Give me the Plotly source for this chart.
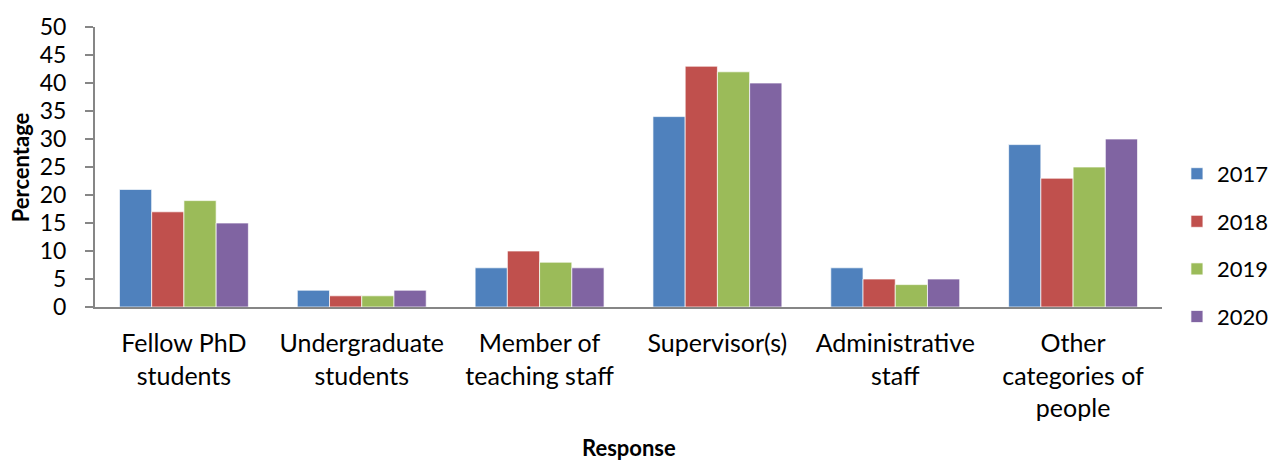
import plotly.graph_objects as go

categories = ["Fellow PhD<br>students", "Undergraduate<br>students", "Member of<br>teaching staff",
              "Supervisor(s)", "Administrative<br>staff", "Other<br>categories of<br>people"]
years = ["2017", "2018", "2019", "2020"]
v2017 = [21, 3, 7, 34, 7, 29]
v2018 = [17, 2, 10, 43, 5, 23]
v2019 = [19, 2, 8, 42, 4, 25]
v2020 = [15, 3, 7, 40, 5, 30]
series = [v2017, v2018, v2019, v2020]
colors = ["#4F81BD", "#C0504D", "#9BBB59", "#8064A2"]
y_ticks = [0, 5, 10, 15, 20, 25, 30, 35, 40, 45, 50]

FONT = "Lato"

fig = go.Figure()
for name, vals, col in zip(years, series, colors):
    fig.add_trace(go.Bar(
        x=categories, y=vals, name=name, legendgroup=name,
        marker=dict(color=col, line=dict(color="rgba(255,255,255,0.7)", width=1)),
    ))

fig.update_layout(
    width=1281, height=460,
    margin=dict(l=87, r=127, t=19, b=161, autoexpand=False),
    paper_bgcolor="white", plot_bgcolor="white",
    barmode="group", bargap=0.275, bargroupgap=0,
    font=dict(family=FONT, size=23, color="black"),
    legend=dict(
        x=1.014, xanchor="left", y=0.22, yanchor="middle",
        font=dict(family=FONT, size=22, color="black"),
        traceorder="grouped", tracegroupgap=16,
        bgcolor="rgba(0,0,0,0)",
    ),
    xaxis=dict(
        showline=True, linecolor="#868686", linewidth=2,
        ticks="", showgrid=False, automargin=False,
        tickfont=dict(family=FONT, size=25),
        ticklabelstandoff=13,
    ),
    yaxis=dict(
        range=[0, 50], tickvals=y_ticks, automargin=False,
        showline=True, linecolor="#868686", linewidth=2,
        ticks="outside", ticklen=8, tickcolor="#868686", tickwidth=2,
        showgrid=False, zeroline=False,
        tickfont=dict(family=FONT, size=23),
        ticklabelstandoff=14,
    ),
    annotations=[
        dict(text="<b>Response</b>", xref="paper", yref="paper", x=0.5, y=-0.50,
             xanchor="center", yanchor="middle", showarrow=False,
             font=dict(family=FONT, size=22)),
        dict(text="<b>Percentage</b>", xref="paper", yref="paper", x=-0.07, y=0.5,
             xanchor="center", yanchor="middle", showarrow=False, textangle=-90,
             font=dict(family=FONT, size=22)),
    ],
)

fig.write_html("out.html")
